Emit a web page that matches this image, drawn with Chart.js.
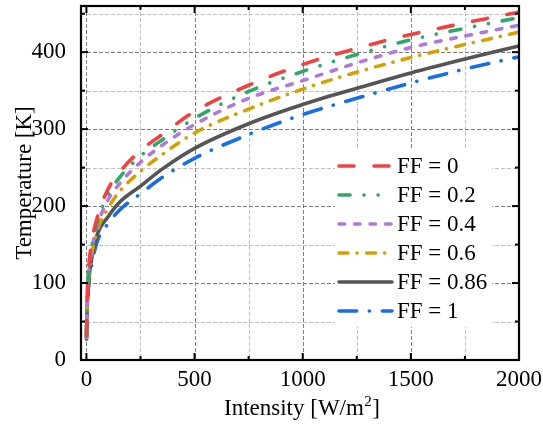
<!DOCTYPE html>
<html><head><meta charset="utf-8">
<script src="https://cdn.jsdelivr.net/npm/chart.js@4/dist/chart.umd.min.js"></script>
<style>html,body{margin:0;padding:0;background:#fff}canvas{display:block}</style>
</head><body>
<canvas id="c" width="543" height="437"></canvas>
<script>
// ---- data ----
const intensity = [0.5, 2, 5, 10, 20, 50, 100, 150, 250, 350, 500, 750, 1000, 1250, 1500, 1750, 2000];
const ff0   = [32, 62, 92, 118, 145, 185, 222, 243, 272, 293, 323, 357, 384, 405, 423, 438, 452];
const ff02  = [31, 60, 89, 114, 140, 179, 215, 236, 265, 286, 314, 349, 375, 397, 416, 431, 445];
const ff04  = [30, 58, 86, 110, 135, 174, 208, 228, 257, 279, 306, 340, 363, 386, 406, 421, 435];
const ff06  = [29, 56, 83, 106, 130, 168, 197, 218, 245, 267, 295, 326, 352, 374, 393, 410, 426];
const ff086 = [28, 52, 77, 100, 124, 163, 186, 204, 226, 248, 275, 307, 332, 353, 373, 391, 408];
const ff1   = [27, 49, 73, 95, 117, 154, 177, 194, 216, 237, 262, 293, 319, 340, 360, 378, 394];
const seriesLabels = ['FF = 0', 'FF = 0.2', 'FF = 0.4', 'FF = 0.6', 'FF = 0.86', 'FF = 1'];
const xMajorTicks = [0, 500, 1000, 1500, 2000];
const xMinorTicks = [250, 750, 1250, 1750];
const yMajorTicks = [0, 100, 200, 300, 400];
const yMinorTicks = [50, 150, 250, 350, 450];
const xTitleMain = 'Intensity [W/m', xTitleSup = '2', xTitleEnd = ']';
const yTitle = 'Temperature [K]';

// ---- styles ----
const colors = ['rgb(240,66,66)', 'rgb(46,168,102)', 'rgb(176,120,222)', 'rgb(214,160,0)', 'rgb(85,85,85)', 'rgb(22,110,232)'];
const dashes = [[15, 20], [11, 14, 0.1, 14, 0.1, 14], [5.5, 10], [9, 9, 0.1, 9.5], [], [17.7, 12.6, 0.1, 13]];
const FONT = "'Liberation Serif', 'Times New Roman', serif";
const FS = 23;
const allSeries = [ff0, ff02, ff04, ff06, ff086, ff1];

const datasets = allSeries.map((vals, i) => ({
  label: seriesLabels[i],
  data: intensity.map((x, j) => ({x: x, y: vals[j]})),
  borderColor: colors[i],
  backgroundColor: colors[i],
  borderWidth: 3.6,
  borderDash: dashes[i],
  borderCapStyle: 'round',
  pointRadius: 0,
  cubicInterpolationMode: 'monotone',
  fill: false
}));

const framePlugin = {
  id: 'frame',
  beforeDatasetsDraw(chart) {
    const {ctx, chartArea: a, scales: {x, y}} = chart;
    ctx.save();
    ctx.lineWidth = 1;
    const drawV = (vals, col) => {
      ctx.strokeStyle = col;
      vals.forEach(v => { const px = Math.round(x.getPixelForValue(v)) + 0.5; ctx.beginPath(); ctx.moveTo(px, a.top); ctx.lineTo(px, a.bottom); ctx.stroke(); });
    };
    const drawH = (vals, col) => {
      ctx.strokeStyle = col;
      vals.forEach(v => { const py = Math.round(y.getPixelForValue(v)) + 0.5; ctx.beginPath(); ctx.moveTo(a.left, py); ctx.lineTo(a.right, py); ctx.stroke(); });
    };
    ctx.setLineDash([4, 2]);
    drawV(xMinorTicks, '#c0c0c0');
    drawH(yMinorTicks, '#c0c0c0');
    drawV(xMajorTicks, '#7f7f7f');
    drawH(yMajorTicks, '#7f7f7f');
    ctx.restore();
  },
  afterDatasetsDraw(chart) {
    const {ctx, chartArea: a, scales: {x, y}} = chart;
    ctx.save();
    ctx.strokeStyle = '#000';
    ctx.lineWidth = 2.2;
    ctx.setLineDash([]);
    ctx.strokeRect(a.left, a.top, a.right - a.left, a.bottom - a.top);
    ctx.lineWidth = 2;
    const tickX = (vals, len) => vals.forEach(v => {
      const px = x.getPixelForValue(v);
      ctx.beginPath(); ctx.moveTo(px, a.bottom); ctx.lineTo(px, a.bottom - len); ctx.stroke();
      ctx.beginPath(); ctx.moveTo(px, a.top); ctx.lineTo(px, a.top + len); ctx.stroke();
    });
    const tickY = (vals, len) => vals.forEach(v => {
      const py = y.getPixelForValue(v);
      ctx.beginPath(); ctx.moveTo(a.left, py); ctx.lineTo(a.left + len, py); ctx.stroke();
      ctx.beginPath(); ctx.moveTo(a.right, py); ctx.lineTo(a.right - len, py); ctx.stroke();
    });
    tickX(xMajorTicks, 7); tickX(xMinorTicks, 4);
    tickY(yMajorTicks, 7); tickY(yMinorTicks, 4);

    // legend
    const bx = a.right - 184, by = a.top + 144;
    ctx.fillStyle = '#fff';
    ctx.fillRect(bx, by, 157, 177);
    ctx.font = FS + 'px ' + FONT;
    ctx.textBaseline = 'middle';
    ctx.textAlign = 'left';
    chart.data.datasets.forEach((ds, i) => {
      const ry = by + 16 + i * 29;
      ctx.strokeStyle = ds.borderColor;
      ctx.lineWidth = 3.6;
      ctx.lineCap = 'round';
      ctx.setLineDash(ds.borderDash);
      ctx.beginPath(); ctx.moveTo(bx + 4, ry); ctx.lineTo(bx + 57, ry); ctx.stroke();
      ctx.setLineDash([]);
      ctx.fillStyle = '#000';
      ctx.fillText(ds.label, bx + 62, ry + 1);
    });

    // x-axis title with superscript
    ctx.fillStyle = '#000';
    ctx.textBaseline = 'alphabetic';
    const mainFont = FS + 'px ' + FONT, supFont = '15px ' + FONT;
    ctx.font = mainFont; const w1 = ctx.measureText(xTitleMain).width, w3 = ctx.measureText(xTitleEnd).width;
    ctx.font = supFont; const w2 = ctx.measureText(xTitleSup).width;
    const total = w1 + w2 + w3 + 1;
    let tx = (a.left + a.right) / 2 + 2 - total / 2;
    const base = a.bottom + 55;
    ctx.font = mainFont; ctx.fillText(xTitleMain, tx, base); tx += w1 + 0.5;
    ctx.font = supFont; ctx.fillText(xTitleSup, tx, base - 9); tx += w2 + 0.5;
    ctx.font = mainFont; ctx.fillText(xTitleEnd, tx, base);
    ctx.restore();
  }
};

new Chart(document.getElementById('c'), {
  type: 'line',
  data: {datasets},
  options: {
    responsive: false,
    animation: false,
    devicePixelRatio: 1,
    layout: {padding: {top: 6, right: 24, left: 0, bottom: 0}},
    plugins: {legend: {display: false}, tooltip: {enabled: false}},
    scales: {
      x: {
        type: 'linear', min: -25, max: 2000,
        afterBuildTicks: s => { s.ticks = xMajorTicks.map(v => ({value: v})); },
        afterFit: s => { s.height = 77; s.paddingLeft = 0; s.paddingRight = 0; },
        grid: {display: false}, border: {display: false},
        ticks: {color: '#000', font: {family: FONT, size: FS}, padding: -2, maxRotation: 0, callback: v => String(v)},
        title: {display: false}
      },
      y: {
        type: 'linear', min: 0, max: 460,
        afterBuildTicks: s => { s.ticks = yMajorTicks.map(v => ({value: v})); },
        afterFit: s => { s.width = 81; s.paddingTop = 0; s.paddingBottom = 0; },
        grid: {display: false}, border: {display: false},
        ticks: {color: '#000', font: {family: FONT, size: FS}, padding: 7, callback: v => String(v)},
        title: {display: true, text: yTitle, color: '#000', font: {family: FONT, size: FS}, padding: {top: 11, bottom: 0}}
      }
    }
  },
  plugins: [framePlugin]
});
</script>
</body></html>
